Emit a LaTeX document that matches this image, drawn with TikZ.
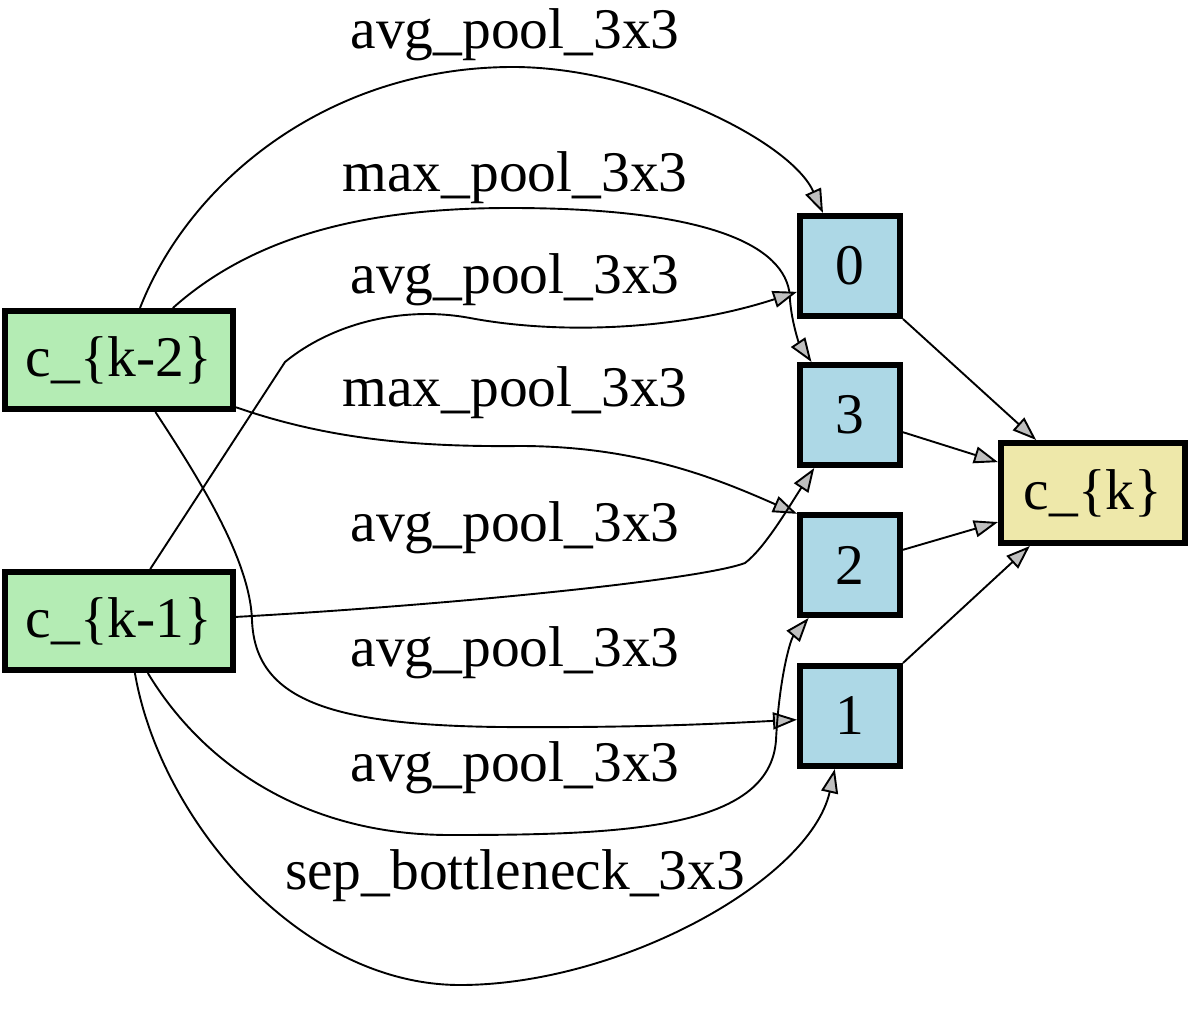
\documentclass[tikz,border=0pt]{standalone}
\usepackage{fontspec}
\setmainfont{Liberation Serif}
\usepackage{xcolor}
\usetikzlibrary{arrows.meta}

\definecolor{inputgreen}{RGB}{180,236,180}
\definecolor{stepblue}{RGB}{173,216,230}
\definecolor{outgold}{RGB}{238,232,170}

\begin{document}
\begin{tikzpicture}[x=1pt, y=-1pt, font=\fontsize{57.5}{62}\selectfont]
\tikzstyle{cellbox} = [rectangle, draw, line width=6pt, inner sep=0pt]
\tikzstyle{inbox} = [cellbox, fill=inputgreen, minimum width=228pt, minimum height=98pt]
\tikzstyle{stepbox} = [cellbox, fill=stepblue, minimum width=100pt, minimum height=100pt]
\tikzstyle{outbox} = [cellbox, fill=outgold, minimum width=184pt, minimum height=100pt]
\tikzstyle{oplabel} = [anchor=base, inner sep=0pt]
\tikzstyle{edge} = [line width=1.9pt, -{Triangle[length=24pt, width=17pt, fill=lightgray]}]

\useasboundingbox (0,0) rectangle (1196,1030);

% nodes
\node (km2) [inbox] at (119,360) {c\_\{k-2\}};
\node (km1) [inbox] at (119,621) {c\_\{k-1\}};
\node (n0) [stepbox] at (850,266) {0};
\node (n3) [stepbox] at (850,415) {3};
\node (n2) [stepbox] at (850,565) {2};
\node (n1) [stepbox] at (850,716) {1};
\node (ck) [outbox] at (1093,493) {c\_\{k\}};

% operation labels
\node (op0) [oplabel] at (515,49) {avg\_pool\_3x3};
\node (op1) [oplabel] at (515,191) {max\_pool\_3x3};
\node (op2) [oplabel] at (515,293) {avg\_pool\_3x3};
\node (op3) [oplabel] at (515,406) {max\_pool\_3x3};
\node (op4) [oplabel] at (515,541) {avg\_pool\_3x3};
\node (op5) [oplabel] at (515,666) {avg\_pool\_3x3};
\node (op6) [oplabel] at (515,781) {avg\_pool\_3x3};
\node (op7) [oplabel] at (515,889) {sep\_bottleneck\_3x3};

% edges into the intermediate nodes
\draw [edge] (km2.68) .. controls (190,180) and (330,67) .. (513,67)
  .. controls (640,67) and (790,140) .. (n0.117);
\draw [edge] (km2.44) .. controls (260,230) and (380,208) .. (510,208)
  .. controls (720,208) and (790,250) .. (790,300)
  .. controls (792,325) and (800,345) .. (n3.126);
\draw [edge] (km1.59) -- (285,362) .. controls (330,325) and (400,305) .. (470,318)
  .. controls (560,335) and (680,330) .. (n0.206);
\draw [edge] (km2.-22) .. controls (330,440) and (420,447) .. (520,446)
  .. controls (640,446) and (720,480) .. (n2.136);
\draw [edge] (km1.2) .. controls (450,605) and (700,580) .. (745,563)
  .. controls (765,548) and (790,505) .. (n3.236);
\draw [edge] (km2.-55) .. controls (200,480) and (250,560) .. (252,620)
  .. controls (255,700) and (330,725) .. (500,727)
  .. controls (650,728) and (730,723) .. (n1.184);
\draw [edge] (km1.-61) .. controls (200,760) and (300,835) .. (450,835)
  .. controls (620,835) and (770,830) .. (776,740)
  .. controls (779,680) and (790,640) .. (n2.232);
\draw [edge] (km1.-73) .. controls (160,820) and (300,985) .. (460,985)
  .. controls (620,985) and (810,880) .. (n1.254);

% edges into the output
\draw [edge] (n0.south east) -- (ck.137);
\draw [edge] (n3.-18) -- (ck.162);
\draw [edge] (n2.16) -- (ck.197);
\draw [edge] (n1.north east) -- (ck.220);

\end{tikzpicture}
\end{document}
